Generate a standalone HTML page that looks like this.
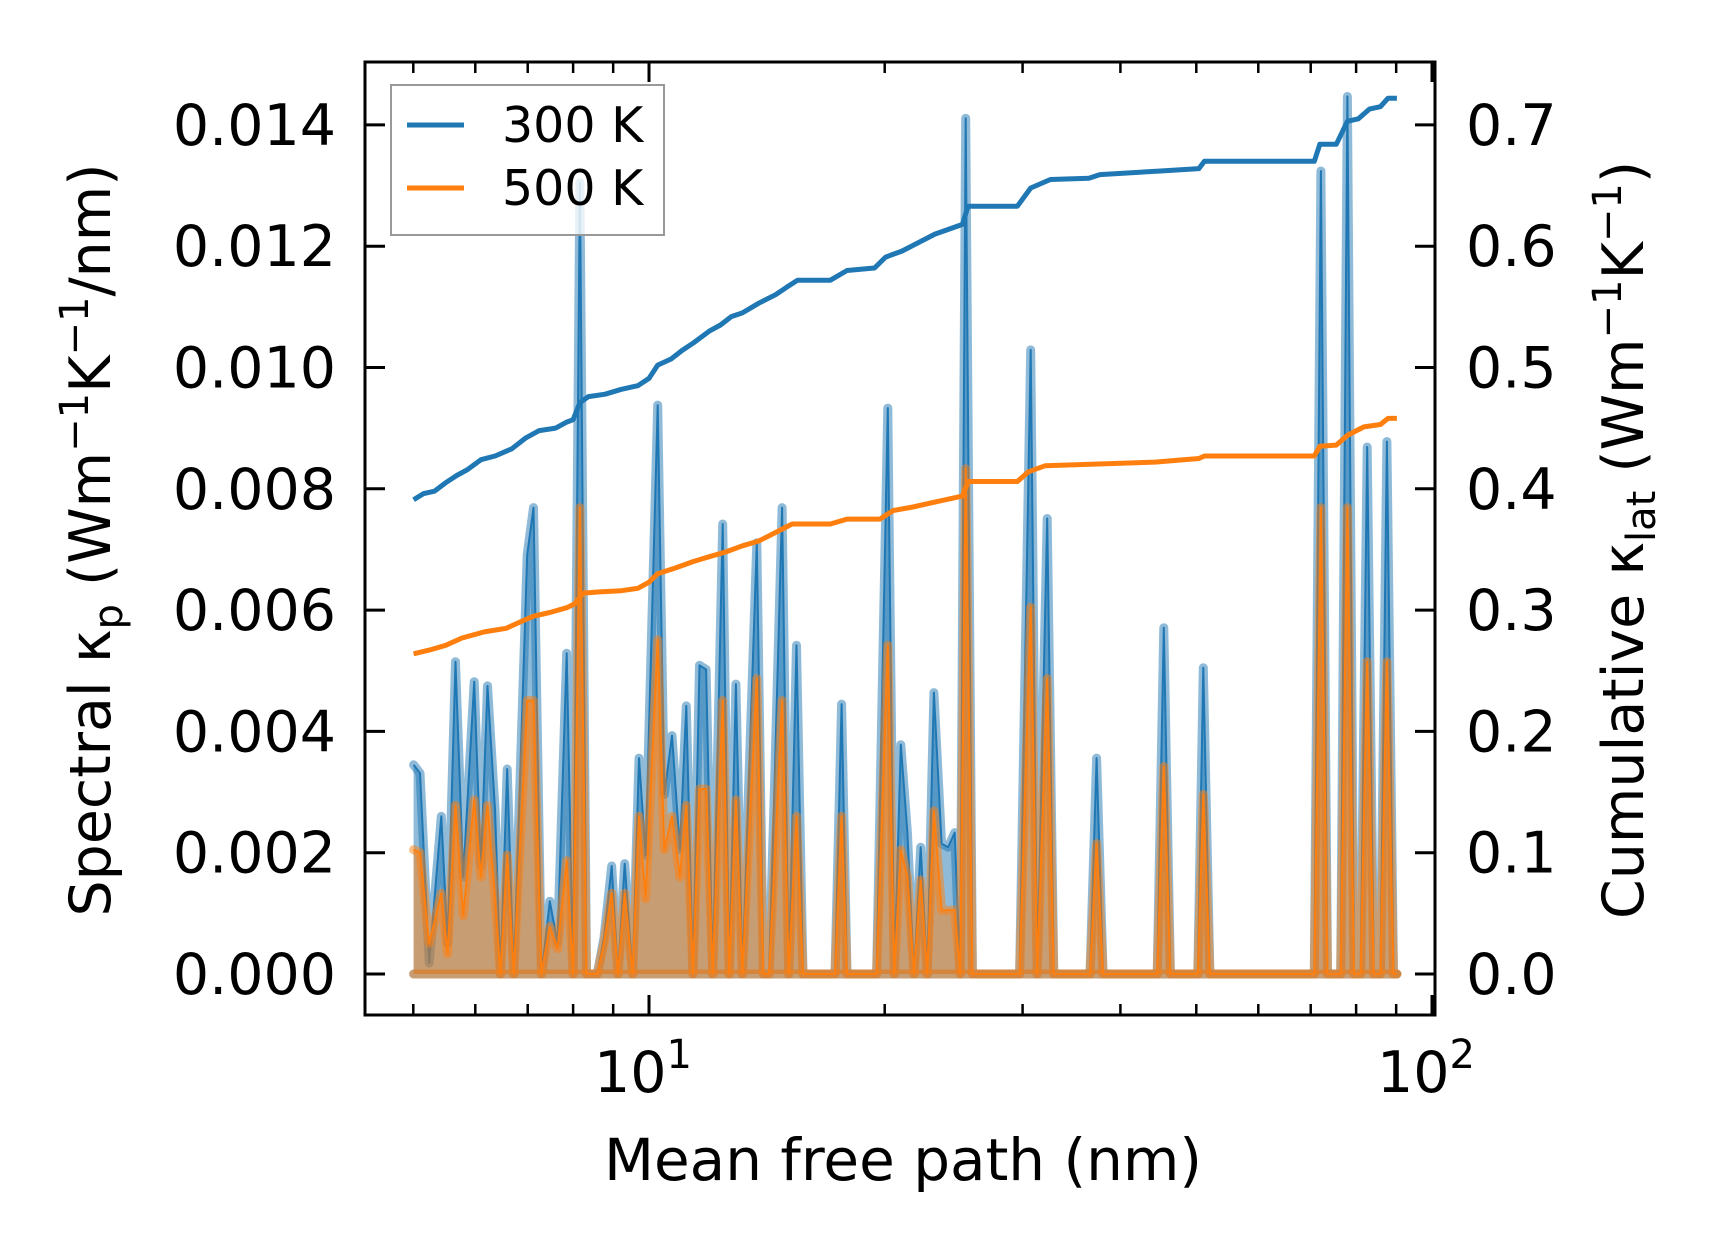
<!DOCTYPE html>
<html><head><meta charset="utf-8"><style>
html,body{margin:0;padding:0;background:#fff;}
svg{display:block;font-family:"DejaVu Sans","Liberation Sans",sans-serif;}
</style></head><body>
<svg id="chart" width="1716" height="1254" viewBox="0 0 1716 1254" xmlns="http://www.w3.org/2000/svg">
<rect x="0" y="0" width="1716" height="1254" fill="#fff"/>
<g id="plot"></g>
<g id="axes"></g>
<text x="903" y="1180" font-size="58" text-anchor="middle">Mean free path (nm)</text>
<text transform="translate(110,540) rotate(-90)" font-size="57" text-anchor="middle">Spectral κ<tspan font-size="40" dy="12">p</tspan><tspan dy="-12"> (Wm</tspan><tspan font-size="40" dy="-22">−1</tspan><tspan dy="22">K</tspan><tspan font-size="40" dy="-22">−1</tspan><tspan dy="22">/nm)</tspan></text>
<text transform="translate(1643,540) rotate(-90)" font-size="57" text-anchor="middle">Cumulative κ<tspan font-size="40" dy="12">lat</tspan><tspan dy="-12"> (Wm</tspan><tspan font-size="40" dy="-22">−1</tspan><tspan dy="22">K</tspan><tspan font-size="40" dy="-22">−1</tspan><tspan dy="22">)</tspan></text>
<g>
<rect x="391" y="85" width="273" height="150" fill="#fff" fill-opacity="0.8" stroke="#999" stroke-width="2"/>
<line x1="407" y1="125" x2="464" y2="125" stroke="#1f77b4" stroke-width="5"/>
<text x="502" y="142" font-size="49">300 K</text>
<line x1="407" y1="188" x2="464" y2="188" stroke="#ff7f0e" stroke-width="5"/>
<text x="502" y="205" font-size="49">500 K</text>
</g>
</svg>
<script>
const mfp = [5.005,5.10,5.24,5.43,5.53,5.66,5.79,5.98,6.10,6.22,6.36,6.46,6.59,6.72,6.99,7.12,7.29,7.47,7.64,7.85,
8.00,8.16,8.32,8.59,8.76,8.96,9.13,9.31,9.53,9.71,9.90,10.26,10.46,10.70,10.95,11.16,11.38,11.60,11.83,12.06,
12.42,12.66,12.91,13.16,13.73,14.00,14.23,14.46,14.79,15.08,15.43,15.73,17.28,17.62,17.90,19.53,20.18,20.57,20.97,21.38,
21.80,22.23,22.66,23.11,23.64,24.10,24.57,24.97,25.38,25.88,26.64,29.74,30.72,31.32,32.25,32.88,36.58,37.30,38.02,44.57,
45.44,46.33,50.22,51.04,52.04,70.75,72.13,73.55,76.46,77.98,79.50,81.05,82.64,84.26,85.91,87.58,89.30,90.18];
const spec300 = [0.00345,0.00331,0.00018,0.0026,0.00051,0.00515,0.0016,0.00482,0.00178,0.00475,0.00269,0,0.00338,0,0.00691,0.00769,0,0.00120,0.00051,0.00529,
0,0.01305,0,0,0.0006,0.00178,0,0.00182,0,0.00356,0.00196,0.00938,0.00296,0.00393,0.00205,0.00442,0,0.00509,0.00502,0,
0.00742,0,0.00478,0,0.00711,0,0,0.00305,0.00769,0,0.00542,0,0,0.00445,0,0,0.00933,0,0.00378,0.00233,
0,0.00209,0,0.00464,0.00215,0.00209,0.00233,0,0.01411,0,0,0,0.01029,0,0.00751,0,0,0.00356,0,0,
0.00571,0,0,0.00505,0,0,0.01324,0,0,0.01447,0,0,0.00869,0,0,0.00878,0,0];
const spec500 = [0.00205,0.0020,0.00051,0.00133,0.00033,0.00278,0.00096,0.00287,0.0016,0.00278,0.00124,0,0.00196,0,0.00451,0.00451,0,0.00078,0.00042,0.00187,
0,0.00769,0,0,0.00051,0.00133,0,0.00133,0,0.0026,0.00124,0.00551,0.00205,0.0026,0.0016,0.00278,0,0.00305,0.00305,0,
0.00451,0,0.00287,0,0.00487,0,0,0.00178,0.00451,0,0.0026,0,0,0.0026,0,0,0.00542,0,0.00205,0.0016,
0,0.00155,0,0.00269,0.00105,0.00105,0.00105,0,0.00833,0,0,0,0.00605,0,0.00487,0,0,0.00215,0,0,
0.00342,0,0,0.00296,0,0,0.00769,0,0,0.00769,0,0,0.00515,0,0,0.00515,0,0];
const cumX300 = [5.005,5.15,5.32,5.50,5.68,5.87,6.10,6.36,6.68,6.96,7.24,7.60,7.85,8.00,8.16,8.37,8.79,9.22,9.68,10.0,
10.26,10.67,11.02,11.38,11.94,12.34,12.74,13.16,13.81,14.51,14.98,15.48,17.05,17.90,19.41,20.05,21.04,22.08,23.18,25.14,
25.55,29.55,30.72,32.56,36.46,37.66,45.0,50.39,51.2,70.75,71.90,75.48,77.98,80.53,83.18,85.91,87.86,90.18];
const cum300 = [0.391,0.396,0.398,0.405,0.411,0.416,0.424,0.427,0.433,0.442,0.448,0.450,0.455,0.457,0.471,0.476,0.478,0.482,0.485,0.491,
0.502,0.507,0.514,0.520,0.530,0.535,0.542,0.545,0.553,0.560,0.566,0.572,0.572,0.580,0.582,0.591,0.596,0.603,0.610,0.618,
0.633,0.633,0.648,0.655,0.656,0.659,0.662,0.664,0.670,0.670,0.684,0.684,0.703,0.705,0.713,0.715,0.722,0.722];
const cumX500 = [5.005,5.24,5.50,5.77,6.16,6.57,6.89,7.12,7.47,7.85,8.03,8.24,8.65,9.22,9.68,10.0,10.26,10.84,11.38,11.94,
12.54,13.16,13.81,14.51,15.23,17.05,17.90,19.72,20.50,21.73,23.18,25.14,25.55,29.55,30.52,32.04,44.27,50.39,51.2,70.75,
71.90,75.48,77.98,81.86,85.91,87.86,90.18];
const cum500 = [0.264,0.267,0.271,0.277,0.282,0.285,0.291,0.295,0.298,0.302,0.305,0.314,0.315,0.316,0.318,0.323,0.330,0.335,0.340,0.344,
0.348,0.353,0.357,0.364,0.371,0.371,0.375,0.375,0.382,0.385,0.389,0.394,0.406,0.406,0.414,0.419,0.422,0.425,0.427,0.427,
0.435,0.436,0.444,0.451,0.453,0.458,0.458];
const leftTicks = [0,0.002,0.004,0.006,0.008,0.010,0.012,0.014];
const leftTickLabels = ["0.000","0.002","0.004","0.006","0.008","0.010","0.012","0.014"];
const rightTicks = [0,0.1,0.2,0.3,0.4,0.5,0.6,0.7];
const rightTickLabels = ["0.0","0.1","0.2","0.3","0.4","0.5","0.6","0.7"];
const xMajor = [10,100];
const xMinor = [5,6,7,8,9,20,30,40,50,60,70,80,90];

const NS = "http://www.w3.org/2000/svg";
const L = 365, R = 1435, T = 62, B = 1015;
const X = v => 649 + 783 * (Math.log10(v) - 1);
const YL = v => 974 - v / 0.002 * 121.3;
const YR = v => 974 - v / 0.1 * 121.3;
function mk(tag, attrs, parent) {
  const e = document.createElementNS(NS, tag);
  for (const k in attrs) e.setAttribute(k, attrs[k]);
  parent.appendChild(e); return e;
}
const plot = document.getElementById('plot');
const axes = document.getElementById('axes');
function pts(xs, ys, f) { return xs.map((x, i) => X(x).toFixed(1) + ',' + f(ys[i]).toFixed(1)).join(' '); }

function spectral(ys, color, name) {
  const line = pts(mfp, ys, YL);
  const fillPts = line + ' ' + X(mfp[mfp.length-1]).toFixed(1) + ',' + YL(0).toFixed(1) + ' ' + X(mfp[0]).toFixed(1) + ',' + YL(0).toFixed(1);
  const f = mk('polygon', {points: fillPts, fill: color, 'fill-opacity': 0.5, stroke: 'none'}, plot);
  
  
  const base = mk('polyline', {points: X(mfp[0]).toFixed(1)+','+YL(0).toFixed(1)+' '+X(mfp[mfp.length-1]).toFixed(1)+','+YL(0).toFixed(1), fill:'none', stroke: color, 'stroke-opacity':0.5, 'stroke-width': 9, 'stroke-linecap':'round'}, plot);
  
  
  const thick = mk('polyline', {points: line, fill: 'none', stroke: color, 'stroke-opacity': 0.5, 'stroke-width': 9, 'stroke-linejoin': 'round', 'stroke-linecap': 'round'}, plot);
  
  
  const thin = mk('polyline', {points: line, fill: 'none', stroke: color, 'stroke-width': 2, 'stroke-linejoin': 'round'}, plot);
  
  
}
spectral(spec300, '#1f77b4', 'spectral-300k');
spectral(spec500, '#ff7f0e', 'spectral-500k');

const c3 = mk('polyline', {points: pts(cumX300, cum300, YR), fill: 'none', stroke: '#1f77b4', 'stroke-width': 5, 'stroke-linejoin': 'round'}, plot);


const c5 = mk('polyline', {points: pts(cumX500, cum500, YR), fill: 'none', stroke: '#ff7f0e', 'stroke-width': 5, 'stroke-linejoin': 'round'}, plot);



const frame = mk('rect', {x: L, y: T, width: R - L, height: B - T, fill: 'none', stroke: '#000', 'stroke-width': 3}, axes);



leftTicks.forEach((v, i) => {
  const y = YL(v);
  const t = mk('line', {x1: L, y1: y, x2: L + 20, y2: y, stroke: '#000', 'stroke-width': 3}, axes);
  
  
  const lb = mk('text', {x: 336, y: y + 20, 'font-size': 57, 'text-anchor': 'end'}, axes);
  lb.textContent = leftTickLabels[i];
  
  
});
rightTicks.forEach((v, i) => {
  const y = YR(v);
  const t = mk('line', {x1: R - 20, y1: y, x2: R, y2: y, stroke: '#000', 'stroke-width': 3}, axes);
  
  
  const lb = mk('text', {x: 1466, y: y + 20, 'font-size': 57}, axes);
  lb.textContent = rightTickLabels[i];
  
  
});
xMajor.forEach((v, i) => {
  const x = X(v);
  [[B, B - 20], [T, T + 20]].forEach(p => {
    const t = mk('line', {x1: x, y1: p[0], x2: x, y2: p[1], stroke: '#000', 'stroke-width': 3}, axes);
    
    
  });
  const lb = mk('text', {x: x - 6, y: 1092, 'font-size': 57, 'text-anchor': 'middle'}, axes);
  
  
  lb.textContent = '10';
  const sup = mk('tspan', {'font-size': 40, dy: -24}, lb);
  sup.textContent = String(Math.round(Math.log10(v)));
});
xMinor.forEach(v => {
  const x = X(v);
  [[B, B - 11], [T, T + 11]].forEach(p => {
    const t = mk('line', {x1: x, y1: p[0], x2: x, y2: p[1], stroke: '#000', 'stroke-width': 2.5}, axes);
    
    
  });
});
</script>
</body></html>
